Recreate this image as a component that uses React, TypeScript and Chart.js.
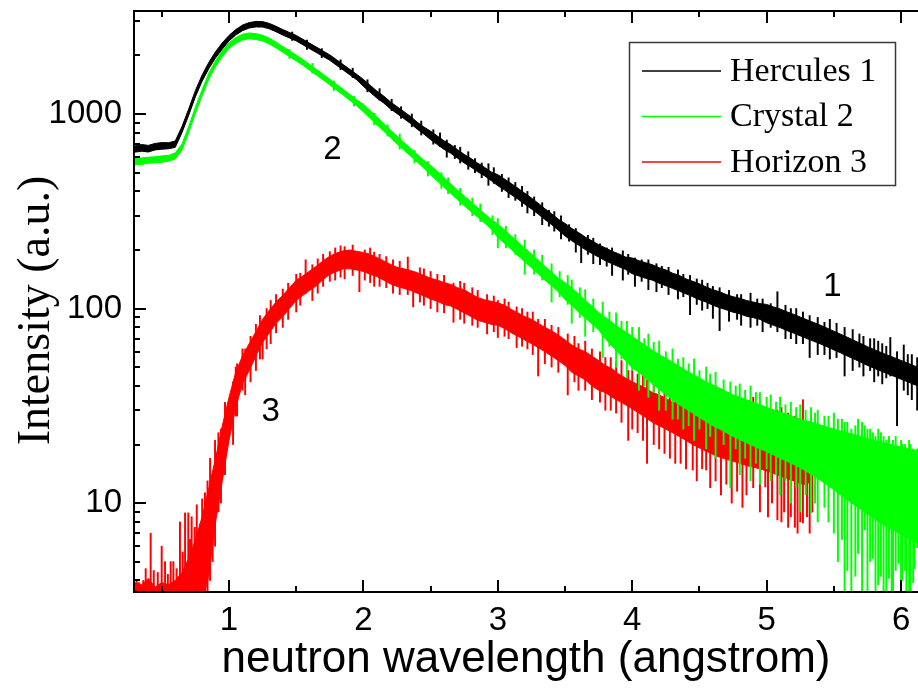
import React, { useEffect, useRef } from "react";
import { Chart, registerables } from "chart.js";

Chart.register(...registerables);

// ---------- data ----------
const seriesNames = ["Hercules 1", "Crystal 2", "Horizon 3"];
const seriesColors = ["#000000", "#00ff00", "#ff0000"];
const xAxisTitle = "neutron wavelength (angstrom)";
const yAxisTitle = "Intensity (a.u.)";

const wavelength = [
  0.30, 0.35, 0.40, 0.45, 0.50, 0.55, 0.60, 0.65, 0.70, 0.75,
  0.80, 0.85, 0.90, 0.95, 1.00, 1.05, 1.10, 1.15, 1.20, 1.25,
  1.30, 1.35, 1.40, 1.45, 1.50, 1.55, 1.60, 1.65, 1.70, 1.75,
  1.80, 1.85, 1.90, 1.95, 2.00, 2.05, 2.10, 2.15, 2.20, 2.25,
  2.30, 2.35, 2.40, 2.45, 2.50, 2.55, 2.60, 2.65, 2.70, 2.75,
  2.80, 2.85, 2.90, 2.95, 3.00, 3.05, 3.10, 3.15, 3.20, 3.25,
  3.30, 3.35, 3.40, 3.45, 3.50, 3.55, 3.60, 3.65, 3.70, 3.75,
  3.80, 3.85, 3.90, 3.95, 4.00, 4.05, 4.10, 4.15, 4.20, 4.25,
  4.30, 4.35, 4.40, 4.45, 4.50, 4.55, 4.60, 4.65, 4.70, 4.75,
  4.80, 4.85, 4.90, 4.95, 5.00, 5.05, 5.10, 5.15, 5.20, 5.25,
  5.30, 5.35, 5.40, 5.45, 5.50, 5.55, 5.60, 5.65, 5.70, 5.75,
  5.80, 5.85, 5.90, 5.95, 6.00, 6.05, 6.10, 6.15,
];

// Hercules 1 (black): upper / lower edge of the noisy trace
const herculesHigh = [
  685, 697, 690, 706, 713, 712, 727, 862, 1062, 1322,
  1588, 1845, 2094, 2323, 2536, 2717, 2865, 2952, 2993, 2986,
  2924, 2825, 2717, 2625, 2536, 2421, 2313, 2209, 2109, 2014,
  1902, 1795, 1695, 1600, 1506, 1406, 1312, 1239, 1156, 1091,
  1031, 972, 908, 857, 816, 771, 728, 695, 656, 620,
  591, 559, 533, 504, 488, 463, 439, 415, 392, 370,
  348, 326, 307, 288, 274, 258, 246, 233, 223, 213,
  205, 197, 191, 184, 182, 176, 172, 168, 162, 158,
  152, 148, 142, 138, 134, 129, 125, 122, 118, 115,
  113, 110, 108, 106, 105, 102, 99.5, 96.2, 93.4, 90.4,
  87.5, 84.8, 82.1, 79.3, 76.5, 73.8, 71.2, 68.6, 66.1, 63.7,
  61.5, 59.5, 57.6, 55.9, 54.1, 52.4, 50.7, 49.4,
];
const herculesLow = [
  637, 644, 638, 654, 659, 663, 674, 802, 986, 1228,
  1476, 1714, 1945, 2158, 2377, 2546, 2684, 2767, 2804, 2799,
  2741, 2648, 2546, 2460, 2377, 2269, 2167, 2070, 1977, 1888,
  1782, 1683, 1589, 1500, 1387, 1295, 1208, 1141, 1064, 1005,
  949, 895, 836, 789, 738, 697, 658, 628, 593, 560,
  534, 505, 482, 455, 428, 407, 385, 365, 344, 325,
  306, 287, 270, 253, 236, 223, 212, 201, 192, 184,
  176, 170, 164, 159, 151, 147, 143, 140, 135, 131,
  127, 123, 119, 115, 111, 108, 104, 101, 98.5, 95.8,
  94, 91.2, 89.8, 88, 84.5, 82, 79.8, 77.1, 74.8, 72.4,
  70.1, 67.9, 65.8, 63.6, 61.3, 59.2, 57, 55, 53, 51,
  49.3, 47.7, 46.2, 44.8, 43.3, 42, 40.6, 39.6,
];

// Crystal 2 (green)
const crystalHigh = [
  590, 595, 600, 603, 609, 613, 632, 702, 863, 1086,
  1336, 1626, 1888, 2119, 2328, 2472, 2570, 2611, 2588, 2541,
  2454, 2344, 2223, 2113, 2009, 1905, 1799, 1698, 1603, 1510,
  1422, 1339, 1259, 1183, 1122, 1042, 966, 895, 830, 770,
  716, 667, 621, 578, 545, 507, 471, 437, 407, 379,
  354, 330, 308, 288, 272, 254, 236, 220, 205, 191,
  178, 165, 154, 143, 136, 128, 119, 110, 103, 95.5,
  90, 85, 80, 76, 72, 68, 64.5, 61, 58, 55.5,
  53, 50.5, 48, 46, 44, 42, 40.5, 39, 37.5, 36,
  35, 34, 33, 32, 31, 30.2, 29.4, 28.6, 27.8, 27,
  26.4, 25.8, 25.2, 24.6, 24, 23.5, 23, 22.5, 22, 21.5,
  21, 20.6, 20.2, 19.8, 19.4, 19, 18.7, 18.4,
];
const crystalLow = [
  548, 551, 558, 561, 565, 571, 587, 652, 802, 1009,
  1241, 1510, 1754, 1968, 2173, 2307, 2399, 2438, 2415, 2372,
  2291, 2188, 2075, 1973, 1875, 1779, 1679, 1586, 1497, 1410,
  1328, 1250, 1175, 1104, 1024, 950, 882, 817, 757, 702,
  653, 608, 566, 527, 486, 452, 420, 390, 363, 338,
  315, 295, 275, 257, 232, 216, 201, 187, 174, 162,
  151, 140, 131, 122, 111, 104, 96, 89.5, 83.4, 77.6,
  70, 64, 59, 54, 49.5, 47, 44, 41, 38.5, 36,
  34, 32, 30.5, 29, 27.5, 26.2, 25, 24, 23, 22,
  21.2, 20.4, 19.7, 19, 18.4, 17.7, 17, 16.4, 15.8, 15.2,
  14.5, 13.8, 13.1, 12.4, 11.7, 11, 10.4, 9.8, 9.3, 8.8,
  8.3, 7.9, 7.5, 7.2, 6.9, 6.6, 6.3, 6,
];

// Horizon 3 (red), 0.30 ... 5.35
const horizonHigh = [
  3.9, 3.8, 4.1, 3.7, 3.9, 3.8, 4.0, 4.4, 5.2, 6.5,
  8.5, 12, 17, 25, 35, 47, 57, 66, 76, 88,
  98, 108, 117, 128, 140, 147, 156, 165, 176, 186,
  193, 198, 200, 197, 194, 190, 183, 176, 169, 163,
  160, 157, 153, 148, 143, 140, 136, 133, 128, 125,
  119, 114, 111, 109, 107, 104, 99, 95, 91, 88,
  84, 80, 77, 73, 69, 65, 62, 60, 57, 54,
  51, 49, 46, 44, 42, 40.5, 39, 37, 36, 34.5,
  33, 32, 31, 30, 29, 28, 27.2, 26.5, 26, 25.5,
  25, 24.8, 24.6, 24.3, 24, 23.6, 23.2, 22.8, 22.4, 22,
  21, 17.5,
];
const horizonLow = [
  3, 3, 3, 3, 3, 3, 3, 3, 3, 3,
  3, 4.3, 8, 13, 21, 31, 41, 48, 57, 67,
  75, 84, 91, 100, 110, 117, 124, 131, 141, 150,
  155, 160, 160, 158, 155, 150, 146, 140, 134, 130,
  127, 124, 120, 116, 112, 109, 105, 103, 99, 95,
  91, 87, 85, 83, 82, 79, 75, 72, 69, 66,
  63, 60, 57, 54, 51, 47, 45, 43, 40, 38,
  37, 35, 33.5, 32, 30.5, 29, 27.5, 26, 25, 24,
  23, 22, 21, 20, 19.2, 18.5, 17.8, 17.2, 16.8, 16.4,
  16, 15.6, 15.3, 15, 14.6, 14.2, 13.8, 13.4, 13, 12.6,
  12.4, 14,
];

// individual noise spikes: wavelength, lower end, upper end
const herculesSpikeX = [
  2.62, 2.78, 2.93, 3.08, 3.18, 3.22, 3.33, 3.47, 3.58, 3.62,
  3.71, 3.76, 3.85, 3.93, 4.02, 4.12, 4.18, 4.27, 4.34, 4.43,
  4.52, 4.60, 4.65, 4.72, 4.81, 4.88, 4.97, 5.08, 5.14, 5.22,
  5.32, 5.38, 5.47, 5.58, 5.64, 5.72, 5.80, 5.86, 5.92, 5.97,
  6.02, 6.08, 6.12,
  1.47, 1.58, 1.69, 1.83, 1.92, 2.03, 2.12, 2.21, 2.28, 2.36,
  2.43, 2.52, 2.57, 2.68, 2.72, 2.83, 2.88, 2.97, 3.03, 3.13,
  3.27, 3.38, 3.42, 3.53, 3.67, 3.81, 3.97, 4.07, 4.22, 4.38,
  4.48, 4.56, 4.78, 4.93, 5.03, 5.18, 5.27, 5.43, 5.52, 5.69,
  5.77, 5.83, 5.89, 6.05,
];
const herculesSpikeLow = [
  600, 520, 430, 372, 335, 310, 270, 228, 195, 172,
  170, 168, 148, 140, 130, 125, 122, 118, 112, 93,
  98, 89, 77, 86, 82, 80, 76, 76, 70, 66,
  56, 58, 55, 45, 48, 45, 42, 41, 45, 25,
  38, 34, 30,
  2390, 2150, 1950, 1690, 1540, 1300, 1180, 1040, 950, 860,
  780, 700, 680, 590, 560, 500, 470, 440, 400, 360,
  300, 265, 250, 222, 190, 165, 150, 138, 128, 115,
  105, 100, 88, 82, 80, 70, 66, 58, 56, 50,
  48, 45, 44, 36,
];
const herculesSpikeHigh = [
  735, 640, 555, 470, 425, 400, 350, 300, 258, 240,
  230, 215, 205, 198, 182, 178, 170, 163, 158, 148,
  140, 130, 128, 124, 118, 120, 112, 122, 104, 100,
  92, 90, 88, 80, 78, 72, 70, 66, 71, 60,
  65, 58, 56,
  2640, 2400, 2170, 1900, 1720, 1500, 1350, 1190, 1090, 1000,
  920, 830, 800, 690, 675, 590, 560, 530, 490, 445,
  375, 320, 315, 270, 238, 205, 190, 178, 165, 150,
  142, 135, 118, 112, 106, 100, 96, 85, 84, 74,
  70, 68, 64, 58,
];

const crystalSpikeX = [
  3.00, 3.20, 3.40, 3.55, 3.65, 3.78, 3.88, 3.96, 4.05, 4.12,
  4.20, 4.30, 4.38, 4.46, 4.55, 4.62, 4.73, 4.80, 4.88, 4.95,
  5.03, 5.10, 5.18, 5.25, 5.33, 5.38, 5.43, 5.50, 5.56, 5.60,
  5.63, 5.68, 5.73, 5.77, 5.81, 5.85, 5.89, 5.93, 5.96, 5.98,
  6.01, 6.04, 6.07, 6.10, 6.12,
  1.45, 1.62, 1.78, 1.93, 2.08, 2.18, 2.27, 2.38, 2.48, 2.58,
  2.63, 2.72, 2.81, 2.87, 2.96, 3.06, 3.13, 3.27, 3.33, 3.46,
  3.52, 3.61, 3.71, 3.83, 3.92, 4.00, 4.09, 4.16, 4.25, 4.34,
  4.42, 4.50, 4.58, 4.68, 4.77, 4.84, 4.92, 5.00, 5.07, 5.14,
  5.22, 5.29, 5.36, 5.46, 5.53, 5.58, 5.66, 5.71, 5.75, 5.79,
  5.83, 5.87, 5.91, 5.94, 6.00, 6.03, 6.06, 6.09, 6.14,
];
const crystalSpikeLow = [
  205, 150, 108, 84, 72, 56, 50, 44, 38, 35,
  30, 27, 24, 21, 19, 17, 12, 14, 13, 12.5,
  13, 11, 10, 9, 8.9, 8, 9.5, 7, 6.5, 4.5,
  3, 5.5, 7.3, 5, 3, 4.2, 3, 3, 4.5, 4.9,
  4, 3, 3, 4.6, 5.9,
  1930, 1620, 1320, 1100, 880, 770, 660, 560, 480, 415,
  390, 340, 300, 280, 240, 205, 190, 150, 140, 115,
  105, 90, 76, 64, 55, 48, 40, 37, 30, 27,
  25, 24, 22, 20, 19, 17, 16, 15, 14, 13,
  12, 11, 10, 8, 5, 3, 4.2, 3.3, 3, 5.2,
  3.8, 3, 4.1, 3, 3.5, 4.5, 3, 3.9, 3,
];
const crystalSpikeHigh = [
  290, 225, 170, 140, 125, 108, 95, 86, 80, 74,
  68, 62, 56, 55, 50, 47, 42, 41, 40, 37,
  36, 35, 33, 32, 31, 30, 28, 29, 27, 26,
  24, 27, 25, 24, 22, 23, 21, 20, 22, 19,
  20, 19, 20, 18.5, 19,
  2150, 1820, 1480, 1230, 1010, 880, 790, 650, 570, 500,
  470, 415, 370, 345, 300, 265, 240, 200, 188, 155,
  148, 128, 112, 96, 86, 80, 70, 67, 60, 55,
  52, 48, 46, 43, 40, 38, 37, 35, 33, 32,
  31, 30, 29, 28, 27, 26, 25, 26, 24, 23,
  24, 22, 22, 21, 21, 20, 21, 19, 19,
];

const horizonSpikeX = [
  0.313, 0.33, 0.362, 0.38, 0.417, 0.44, 0.47, 0.499, 0.524, 0.545,
  0.566, 0.586, 0.61, 0.635, 0.655, 0.673, 0.697, 0.71, 0.722, 0.745,
  0.76, 0.784, 0.80, 0.821, 0.84, 0.859, 0.878, 0.896, 0.921, 0.94,
  0.97, 1.03, 1.06, 1.12, 1.20, 1.25, 1.31, 1.40, 1.50, 1.57,
  1.66, 1.79, 1.86, 1.97, 2.05, 2.12, 2.22, 2.33, 2.37, 2.45,
  2.55, 2.67, 2.75, 2.85, 2.92, 3.00, 3.08, 3.14, 3.22, 3.30,
  3.40, 3.52, 3.60, 3.70, 3.80, 3.88, 3.97, 4.04, 4.11, 4.20,
  4.28, 4.36, 4.45, 4.52, 4.55, 4.62, 4.70, 4.78, 4.85, 4.90,
  4.99, 5.04, 5.08, 5.13, 5.18, 5.23, 5.27, 5.30, 5.32,
  1.05, 1.10, 1.16, 1.23, 1.28, 1.35, 1.44, 1.53, 1.62, 1.70,
  1.75, 1.83, 1.92, 2.01, 2.08, 2.17, 2.27, 2.42, 2.50, 2.60,
  2.72, 2.81, 2.97, 3.05, 3.18, 3.26, 3.35, 3.45, 3.57, 3.65,
  3.76, 3.84, 3.92, 4.00, 4.08, 4.16, 4.24, 4.32, 4.40, 4.48,
  4.58, 4.66, 4.74, 4.82, 4.95, 5.01, 5.11, 5.16, 5.21, 5.25,
  5.34,
];
const horizonSpikeLow = [
  1, 1, 1, 1, 1, 1, 1, 1, 1, 1,
  1, 1, 1, 1, 1, 1, 1, 1, 1, 1,
  1, 1, 1, 2, 3, 4, 5, 6, 9, 10,
  14, 20, 28, 36, 48, 55, 66, 80, 96, 120,
  120, 140, 142, 122, 136, 130, 120, 118, 102, 104,
  96, 85, 84, 80, 74, 71, 70, 63, 62, 45,
  50, 36, 38, 34, 30, 29, 21, 23, 16, 19,
  17, 16, 14.8, 15, 14.8, 13, 12.5, 11.5, 11, 12,
  12.1, 10, 8.2, 9, 8.5, 7, 7.9, 8.5, 7,
  28, 38, 42, 55, 62, 75, 88, 104, 110, 130,
  138, 145, 148, 140, 130, 128, 118, 108, 100, 95,
  88, 82, 76, 72, 64, 58, 52, 47, 42, 38,
  33, 30, 26, 24, 21, 20, 18, 16, 15, 13,
  12, 11, 10, 9.5, 9, 8.5, 8, 7.5, 7.5, 8,
  9,
];
const horizonSpikeHigh = [
  4.0, 3.9, 4.0, 4.6, 7.0, 4.5, 4.4, 6.0, 5.0, 4.3,
  5.0, 5.0, 4.6, 8.0, 5.6, 8.9, 8.9, 6.5, 8.5, 7.5,
  9.8, 7.8, 10.5, 11.3, 13, 17, 14, 21, 23, 24,
  33, 42, 52, 62, 83, 86, 110, 126, 150, 178,
  180, 205, 208, 185, 205, 190, 178, 184, 150, 160,
  150, 135, 135, 124, 118, 110, 108, 102, 96, 88,
  82, 74, 66, 62, 56, 53, 48, 46, 43, 40,
  38, 36, 35, 33, 32, 31, 32, 30, 31, 35,
  29, 28, 30, 28, 26, 27, 34, 26, 25,
  50, 62, 72, 92, 100, 118, 135, 152, 168, 190,
  196, 210, 212, 200, 195, 185, 175, 162, 155, 148,
  138, 128, 116, 112, 100, 96, 88, 80, 72, 68,
  60, 56, 54, 48, 47, 44, 42, 40, 38, 37,
  35, 33, 32, 33, 31, 30, 31, 29, 28, 27,
  24,
];

// curve labels written inside the plot
const curveLabelText = ["1", "2", "3"];
const curveLabelX = [5.49, 1.77, 1.31];
const curveLabelY = [129, 653, 29.4];

// axes
const xRange = [0.293, 6.126];
const yRange = [3.49, 3386];
const xMajorTicks = [1, 2, 3, 4, 5, 6];
const xMinorTicks = [0.5, 1.5, 2.5, 3.5, 4.5, 5.5];
const yMajorTicks = [10, 100, 1000];
const yMinorTicks = [
  4, 5, 6, 7, 8, 9, 20, 30, 40, 50, 60, 70, 80, 90,
  200, 300, 400, 500, 600, 700, 800, 900, 2000, 3000,
];

// ---------- helpers ----------
const SANS = "'Liberation Sans', Arial, sans-serif";
const SERIF = "'Liberation Serif', 'Times New Roman', serif";

const pts = (xs: number[], ys: number[]) => ys.map((y, i) => ({ x: xs[i], y }));
const bars = (xs: number[], lo: number[], hi: number[]) =>
  xs.map((x, i) => ({ x, y: [lo[i], hi[i]] }));

function bandDatasets(name: string, color: string, hi: number[], lo: number[], order: number) {
  const common = {
    type: "line" as const,
    borderColor: color,
    backgroundColor: color,
    borderWidth: 1,
    pointRadius: 0,
    tension: 0,
    order,
  };
  return [
    { ...common, label: name, data: pts(wavelength, hi), fill: "+1" },
    { ...common, label: name + " low", data: pts(wavelength, lo), fill: false },
  ];
}

function spikeDataset(name: string, color: string, xs: number[], lo: number[], hi: number[], order: number) {
  return {
    type: "bar" as const,
    label: name + " spikes",
    data: bars(xs, lo, hi),
    backgroundColor: color,
    borderWidth: 0,
    barThickness: 1.3,
    grouped: false,
    order,
  };
}

const frameTicksPlugin = {
  id: "frameTicks",
  afterDatasetsDraw(chart: any) {
    const { ctx, chartArea, scales } = chart;
    const { left, right, top, bottom } = chartArea;
    const xs = scales.x;
    const ys = scales.y;
    ctx.save();
    ctx.strokeStyle = "#000";
    ctx.lineWidth = 2;
    ctx.beginPath();
    ctx.moveTo(right + 2, top);
    ctx.lineTo(left, top);
    ctx.lineTo(left, bottom);
    ctx.lineTo(right + 2, bottom);
    ctx.stroke();
    ctx.beginPath();
    xMajorTicks.forEach((v) => {
      const p = Math.round(xs.getPixelForValue(v));
      ctx.moveTo(p, bottom);
      ctx.lineTo(p, bottom - 12);
      ctx.moveTo(p, top);
      ctx.lineTo(p, top + 12);
    });
    xMinorTicks.forEach((v) => {
      const p = Math.round(xs.getPixelForValue(v));
      ctx.moveTo(p, bottom);
      ctx.lineTo(p, bottom - 6);
      ctx.moveTo(p, top);
      ctx.lineTo(p, top + 6);
    });
    yMajorTicks.forEach((v) => {
      const p = Math.round(ys.getPixelForValue(v));
      ctx.moveTo(left, p);
      ctx.lineTo(left + 12, p);
    });
    yMinorTicks.forEach((v) => {
      const p = Math.round(ys.getPixelForValue(v));
      ctx.moveTo(left, p);
      ctx.lineTo(left + 6, p);
    });
    ctx.stroke();
    ctx.restore();
  },
};

const curveLabelPlugin = {
  id: "curveLabels",
  afterDatasetsDraw(chart: any) {
    const { ctx, scales } = chart;
    ctx.save();
    ctx.fillStyle = "#000";
    ctx.font = `33px ${SANS}`;
    ctx.textAlign = "center";
    ctx.textBaseline = "middle";
    curveLabelText.forEach((t, i) => {
      ctx.fillText(t, scales.x.getPixelForValue(curveLabelX[i]), scales.y.getPixelForValue(curveLabelY[i]));
    });
    ctx.restore();
  },
};

const yTitlePlugin = {
  id: "yTitle",
  afterDraw(chart: any) {
    const { ctx, chartArea } = chart;
    ctx.save();
    ctx.translate(37, (chartArea.top + chartArea.bottom) / 2 + 9);
    ctx.rotate(-Math.PI / 2);
    ctx.fillStyle = "#000";
    ctx.font = `46px ${SERIF}`;
    ctx.textAlign = "center";
    ctx.textBaseline = "middle";
    ctx.fillText(yAxisTitle, 0, 0);
    ctx.restore();
  },
};

const boxLegendPlugin = {
  id: "boxLegend",
  afterDraw(chart: any) {
    const { ctx } = chart;
    const boxLeft = 629, boxTop = 42, boxW = 266, boxH = 143;
    ctx.save();
    ctx.fillStyle = "#fff";
    ctx.fillRect(boxLeft, boxTop, boxW, boxH);
    ctx.strokeStyle = "#3a3a3a";
    ctx.lineWidth = 1.5;
    ctx.strokeRect(boxLeft + 0.5, boxTop + 0.5, boxW, boxH);
    ctx.font = `34px ${SERIF}`;
    ctx.textAlign = "left";
    ctx.textBaseline = "middle";
    seriesNames.forEach((name, i) => {
      const yy = boxTop + 29 + i * 45.5;
      ctx.strokeStyle = seriesColors[i];
      ctx.lineWidth = 1.5;
      ctx.beginPath();
      ctx.moveTo(boxLeft + 13, yy);
      ctx.lineTo(boxLeft + 92, yy);
      ctx.stroke();
      ctx.fillStyle = "#000";
      ctx.fillText(name, boxLeft + 101, yy + 1);
    });
    ctx.restore();
  },
};

export default function App() {
  const canvasRef = useRef<HTMLCanvasElement | null>(null);

  useEffect(() => {
    if (!canvasRef.current) return;
    const datasets: any[] = [
      ...bandDatasets(seriesNames[0], seriesColors[0], herculesHigh, herculesLow, 1),
      ...bandDatasets(seriesNames[1], seriesColors[1], crystalHigh, crystalLow, 2),
      ...bandDatasets(seriesNames[2], seriesColors[2], horizonHigh, horizonLow, 3),
      spikeDataset(seriesNames[0], seriesColors[0], herculesSpikeX, herculesSpikeLow, herculesSpikeHigh, 1),
      spikeDataset(seriesNames[1], seriesColors[1], crystalSpikeX, crystalSpikeLow, crystalSpikeHigh, 2),
      spikeDataset(seriesNames[2], seriesColors[2], horizonSpikeX, horizonSpikeLow, horizonSpikeHigh, 3),
    ];

    const chart = new Chart(canvasRef.current, {
      type: "line",
      data: { datasets },
      options: {
        responsive: false,
        animation: false,
        devicePixelRatio: 1,
        events: [],
        layout: { padding: { top: 11, right: 0, left: 0, bottom: 0 } },
        plugins: {
          legend: { display: false },
          tooltip: { enabled: false },
        },
        scales: {
          x: {
            type: "linear",
            min: xRange[0],
            max: xRange[1],
            offset: false,
            grid: { display: false, drawTicks: false },
            border: { display: false },
            afterBuildTicks: (s: any) => {
              s.ticks = xMajorTicks.map((v) => ({ value: v }));
            },
            ticks: {
              color: "#000",
              font: { family: SANS, size: 33 },
              padding: 9,
              maxRotation: 0,
              autoSkip: false,
              callback: (v: any) => String(v),
            },
            title: {
              display: true,
              text: xAxisTitle,
              color: "#000",
              font: { family: SANS, size: 44 },
              padding: { top: 0, bottom: 2 },
            },
            afterFit: (s: any) => {
              s.height = 96;
              s.paddingLeft = 0;
              s.paddingRight = 0;
            },
          },
          y: {
            type: "logarithmic",
            min: yRange[0],
            max: yRange[1],
            grid: { display: false, drawTicks: false },
            border: { display: false },
            afterBuildTicks: (s: any) => {
              s.ticks = yMajorTicks.map((v) => ({ value: v }));
            },
            ticks: {
              color: "#000",
              font: { family: SANS, size: 33 },
              padding: 12,
              autoSkip: false,
              callback: (v: any) => String(v),
            },
            title: { display: false },
            afterFit: (s: any) => {
              s.width = 134;
              s.paddingTop = 0;
              s.paddingBottom = 0;
            },
          },
        },
      } as any,
      plugins: [frameTicksPlugin, curveLabelPlugin, yTitlePlugin, boxLegendPlugin],
    });
    return () => chart.destroy();
  }, []);

  return (
    <div style={{ position: "absolute", left: 0, top: 0, width: 918, height: 688, background: "#fff" }}>
      <canvas ref={canvasRef} width={918} height={688} style={{ display: "block" }} />
    </div>
  );
}
